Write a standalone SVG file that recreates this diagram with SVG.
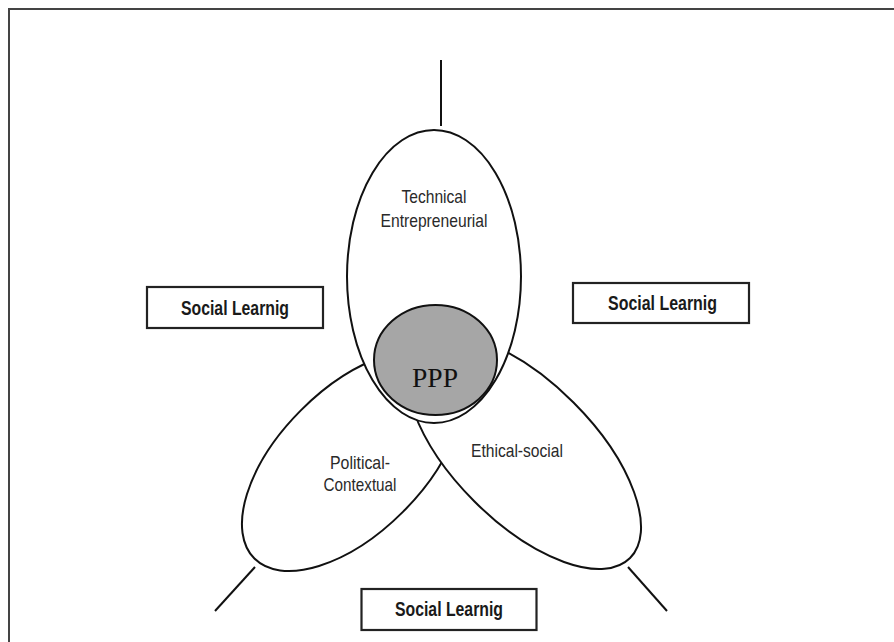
<svg xmlns="http://www.w3.org/2000/svg" width="894" height="642" viewBox="0 0 894 642">
<style>
.line{stroke:#111;stroke-width:2;fill:none}
.oval{stroke:#111;stroke-width:2;fill:#fff}
.box{stroke:#222;stroke-width:2.2;fill:#fff}
.lbl{font-family:"Liberation Sans",Arial,sans-serif;font-size:18.5px;fill:#2a2a2a;text-anchor:middle}
.sl{font-family:"Liberation Sans",Arial,sans-serif;font-size:19.5px;font-weight:bold;fill:#1a1a1a;text-anchor:middle}
.ppp{font-family:"Liberation Serif","Times New Roman",serif;font-size:28px;fill:#111;text-anchor:middle}
</style>
<rect width="894" height="642" fill="#fff"/>
<path d="M9,642 V9 H894" stroke="#444" stroke-width="2" fill="none"/>
<g id="connectors">
<line class="line" x1="441" y1="60" x2="441" y2="126"/>
<line class="line" x1="255" y1="567" x2="215" y2="611"/>
<line class="line" x1="628" y1="567" x2="667" y2="611"/>
</g>
<g id="political">
<ellipse class="oval" cx="352" cy="461" rx="138" ry="72" transform="rotate(-45 352 461)"/>
<text class="lbl" x="360" y="469" textLength="60" lengthAdjust="spacingAndGlyphs">Political-</text>
<text class="lbl" x="360" y="491" textLength="73" lengthAdjust="spacingAndGlyphs">Contextual</text>
</g>
<g id="ethical">
<ellipse class="oval" cx="524" cy="452" rx="150" ry="70" transform="rotate(45 524 452)"/>
<text class="lbl" x="517" y="457" textLength="92" lengthAdjust="spacingAndGlyphs">Ethical-social</text>
</g>
<g id="technical">
<ellipse class="oval" cx="434" cy="276.5" rx="87" ry="146.5"/>
<text class="lbl" x="434" y="203" textLength="65" lengthAdjust="spacingAndGlyphs">Technical</text>
<text class="lbl" x="434" y="227" textLength="107" lengthAdjust="spacingAndGlyphs">Entrepreneurial</text>
</g>
<g id="ppp">
<ellipse cx="435.5" cy="360" rx="61.5" ry="55" fill="#a6a6a6" stroke="#111" stroke-width="2"/>
<text class="ppp" x="435" y="387" textLength="46" lengthAdjust="spacingAndGlyphs">PPP</text>
</g>
<g id="sl-left">
<rect class="box" x="147" y="287" width="176" height="41"/>
<text class="sl" x="235" y="315" textLength="108" lengthAdjust="spacingAndGlyphs">Social Learnig</text>
</g>
<g id="sl-right">
<rect class="box" x="573" y="283" width="176" height="40"/>
<text class="sl" x="662.5" y="310" textLength="109" lengthAdjust="spacingAndGlyphs">Social Learnig</text>
</g>
<g id="sl-bottom">
<rect class="box" x="361.5" y="589" width="175" height="41"/>
<text class="sl" x="449" y="616" textLength="108" lengthAdjust="spacingAndGlyphs">Social Learnig</text>
</g>
</svg>
